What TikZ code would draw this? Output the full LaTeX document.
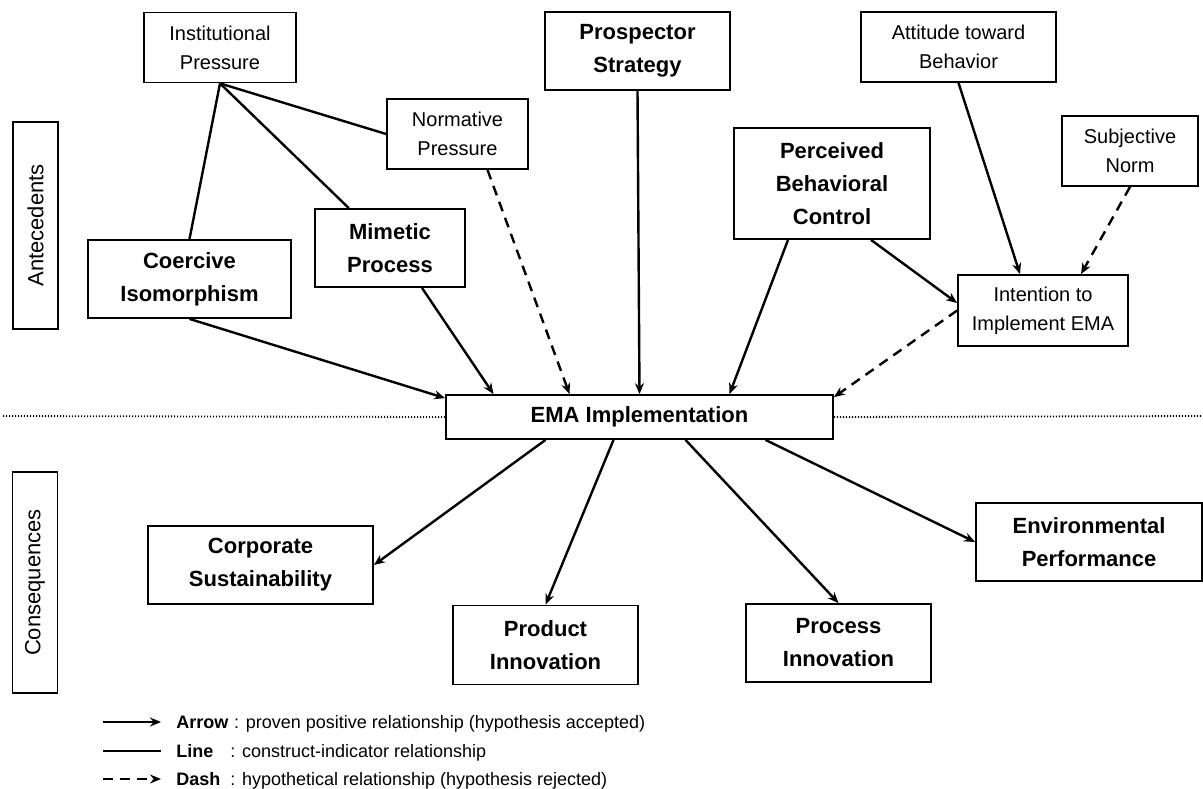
\documentclass[tikz,border=0pt]{standalone}
\usepackage{fontspec}
\setmainfont{Liberation Sans}
\usepackage{tikz}
\usetikzlibrary{arrows.meta, positioning}
\tikzstyle{construct} = [rectangle, draw=black, line width=0.9pt, align=center, inner sep=0pt, font=\fontsize{11}{16.5}\selectfont\bfseries]
\tikzstyle{indicator} = [rectangle, draw=black, line width=0.9pt, align=center, inner sep=0pt, font=\fontsize{10}{14.5}\selectfont]
\tikzstyle{phase} = [rectangle, draw=black, line width=0.9pt, rotate=90, inner sep=0pt, font=\fontsize{11}{13}\selectfont]
\tikzstyle{link} = [line width=1.2pt]
\tikzstyle{arrow} = [line width=1.2pt, -{Stealth[length=5.5pt,width=4.5pt]}]
\tikzstyle{dasharrow} = [arrow, dash pattern=on 5pt off 3.5pt]
\tikzstyle{divider} = [line width=0.9pt, dash pattern=on 0.6pt off 0.9pt]
\tikzstyle{legend} = [inner sep=0pt, anchor=base west, font=\fontsize{9}{11}\selectfont]
\tikzstyle{legendkey} = [legend, font=\fontsize{9}{11}\selectfont\bfseries]

\begin{document}
\begin{tikzpicture}[x=0.5pt, y=-0.5pt]
				\useasboundingbox (0,0) rectangle (1203,788);

				% antecedents
				\node (inst) [indicator, minimum width=76pt, minimum height=35pt] at (220,47.5) {Institutional\\Pressure};
				\node (norm) [indicator, minimum width=70.5pt, minimum height=35pt] at (457.5,134) {Normative\\Pressure};
				\node (coer) [construct, minimum width=101.5pt, minimum height=39pt] at (189.5,279) {Coercive\\Isomorphism};
				\node (mime) [construct, minimum width=75pt, minimum height=39pt] at (390,248) {Mimetic\\Process};
				\node (prosp) [construct, minimum width=92.5pt, minimum height=39pt] at (637.5,51) {Prospector\\Strategy};
				\node (attit) [indicator, minimum width=97.5pt, minimum height=35pt] at (958.5,47) {Attitude toward\\Behavior};
				\node (subj) [indicator, minimum width=68pt, minimum height=35pt] at (1130,151) {Subjective\\Norm};
				\node (perc) [construct, minimum width=98pt, minimum height=55.5pt] at (832,183.5) {Perceived\\Behavioral\\Control};
				\node (intent) [indicator, minimum width=85pt, minimum height=35.5pt] at (1043,310.5) {Intention to\\Implement EMA};

				\node (ema) [construct, minimum width=193.5pt, minimum height=22pt] at (639.5,417) {EMA Implementation};

				% consequences
				\node (corp) [construct, minimum width=112.5pt, minimum height=39pt] at (260.5,565) {Corporate\\Sustainability};
				\node (prod) [construct, minimum width=92.5pt, minimum height=39.5pt] at (545.5,645) {Product\\Innovation};
				\node (proc) [construct, minimum width=92.5pt, minimum height=39pt] at (838.5,643) {Process\\Innovation};
				\node (env) [construct, minimum width=113pt, minimum height=39pt] at (1089,542) {Environmental\\Performance};

				\node (ante) [phase, minimum width=103.5pt, minimum height=22.5pt] at (35.5,225.5) {Antecedents};
				\node (cons) [phase, minimum width=110.5pt, minimum height=22.5pt] at (35,582.5) {Consequences};

				\coordinate (dotl) at (3,416);
				\coordinate (dotr) at (1203,416);
				\draw [divider] (dotl) -- (ema.west);
				\draw [divider] (ema.east) -- (dotr);

				\draw [link] (inst.south) -- (coer.north);
				\draw [link] (inst.south) -- (mime);
				\draw [link] (inst.south) -- (norm.west);

				\draw [arrow] (coer.south) -- ([yshift=-2pt]ema.north west);
				\draw [arrow] ([xshift=16pt]mime.south) -- ([xshift=-73pt]ema.north);
				\draw [dasharrow] ([xshift=15pt]norm.south) -- ([xshift=-35pt]ema.north);
				\draw [arrow] (prosp.south) -- (ema.north);
				\draw [arrow] ([xshift=-22pt]perc.south) -- ([xshift=45pt]ema.north);
				\draw [arrow] ([xshift=19.5pt]perc.south) -- ([yshift=3.75pt]intent.west);
				\draw [arrow] (attit.south) -- ([xshift=-11.5pt]intent.north);
				\draw [dasharrow] (subj.south) -- ([xshift=19pt]intent.north);
				\draw [dasharrow] (intent.west) -- ([yshift=-1.5pt]ema.north east);

				\draw [arrow] ([xshift=-47pt]ema.south) -- (corp.east);
				\draw [arrow] ([xshift=-13pt]ema.south) -- (prod.north);
				\draw [arrow] ([xshift=23pt]ema.south) -- (proc.north);
				\draw [arrow] ([xshift=63pt]ema.south) -- (env.west);

				% legend
				\coordinate (la1) at (103,722);
				\coordinate (la2) at (161,722);
				\coordinate (ll1) at (103,751);
				\coordinate (ll2) at (161,751);
				\coordinate (ld1) at (103,779);
				\coordinate (ld2) at (161,779);
				\draw [arrow] (la1) -- (la2);
				\draw [link] (ll1) -- (ll2);
				\draw [dasharrow] (ld1) -- (ld2);
				\node (larrow) [legendkey] at (176,728) {Arrow};
				\node (larrowtxt) [legend, right=2.5pt of larrow.base east, anchor=base west] {: proven positive relationship (hypothesis accepted)};
				\node (lline) [legendkey] at (176,757) {Line};
				\node (llinetxt) [legend] at (230,757) {: construct-indicator relationship};
				\node (ldash) [legendkey] at (176,785) {Dash};
				\node (ldashtxt) [legend] at (230,785) {: hypothetical relationship (hypothesis rejected)};

			\end{tikzpicture}
\end{document}
